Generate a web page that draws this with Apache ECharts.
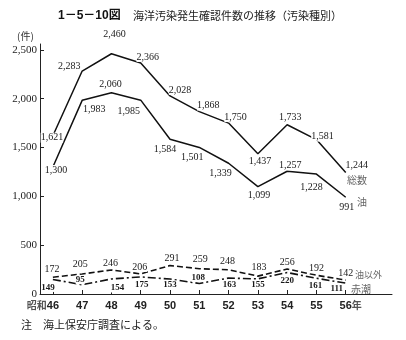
<!DOCTYPE html>
<html>
<head>
<meta charset="utf-8">
<script src="https://cdn.jsdelivr.net/npm/echarts@6/dist/echarts.min.js"></script>
<style>html,body{margin:0;padding:0;background:#fff}#c{width:406px;height:340px}</style>
</head>
<body>
<div id="c"></div>
<script>
// ---- data ----
const years = [46, 47, 48, 49, 50, 51, 52, 53, 54, 55, 56];
const totalCounts = [1621, 2283, 2460, 2366, 2028, 1868, 1750, 1437, 1733, 1581, 1244];
const oilCounts = [1300, 1983, 2060, 1985, 1584, 1501, 1339, 1099, 1257, 1228, 991];
const nonOilCounts = [172, 205, 246, 206, 291, 259, 248, 183, 256, 192, 142];
const redTideCounts = [149, 95, 154, 175, 153, 108, 163, 155, 220, 161, 111];
const yTicks = [0, 500, 1000, 1500, 2000, 2500];
const seriesNames = ['総数', '油', '油以外', '赤潮'];

// ---- label placement (style only) ----
const totalOff = [[-1,2],[-13,-5],[3,-19],[7,-6],[10,-6],[9,-6],[7,-6],[2,8],[3,-7],[6,-3],[11,-7]];
const oilOff = [[3,3],[12,9],[-1,-8],[-12,11],[-5,10],[-7,10],[-8,10],[1,9],[3,-6],[-5,13],[1,10]];
const nonOilOff = [[-1,-8],[-2,-10],[-1,-7],[-1,-7],[2,-7],[1,-9],[-1,-8],[1,-9],[0,-7],[0,-7],[0,-7]];
const redOff = [[-5,8],[-2,-5],[6,9],[1,8],[0,6],[-1,-6],[1,7],[0,6],[0,8],[-1,7],[-9,6]];

function fmt(v){ return String(v).replace(/\B(?=(\d{3})+(?!\d))/g, ','); }

function makeData(vals, offs, font, weight){
  return vals.map((v, i) => ({
    value: [years[i], v],
    label: {
      show: true, position: 'inside', offset: offs[i],
      formatter: fmt(v), fontFamily: 'Liberation Serif', fontSize: font,
      fontWeight: weight, color: '#1a1a1a', backgroundColor: '#fff', padding: [0, 0]
    }
  }));
}

function lineSeries(name, data, type, width){
  return {
    name: name, type: 'line', data: data,
    symbol: 'circle', symbolSize: 1, showSymbol: true,
    itemStyle: { color: 'rgba(0,0,0,0)' },
    lineStyle: { color: '#111', width: width, type: type },
    emphasis: { disabled: true }, animation: false, z: 3
  };
}

const richStyles = {
  s: { fontFamily: 'Noto Sans CJK JP', fontSize: 10, color: '#555' },
  h: { fontFamily: 'Noto Sans CJK JP', fontSize: 10, color: 'rgba(0,0,0,0)' }
};
const restYears = years.slice(1);
const firstYear = [years[0]];

const chart = echarts.init(document.getElementById('c'), null, { renderer: 'canvas' });
chart.setOption({
  backgroundColor: '#fff',
  animation: false,
  grid: { left: 40, right: 14, top: 44, bottom: 46, containLabel: false },
  xAxis: [{
    type: 'value', min: 45.56, max: 57.58,
    splitLine: { show: false },
    axisLine: { lineStyle: { color: '#222', width: 1 } },
    axisTick: { show: true, inside: true, length: 4, customValues: years, lineStyle: { color: '#222' } },
    axisLabel: {
      customValues: restYears, margin: 6, showMinLabel: true, showMaxLabel: true, hideOverlap: false,
      fontFamily: 'Liberation Sans', fontSize: 11, fontWeight: 'bold', color: '#222',
      formatter: v => v === years[years.length-1] ? '{h|年}' + v + '{s|年}' : String(v),
      rich: richStyles
    }
  }, {
    type: 'value', min: 45.56, max: 57.58, position: 'bottom',
    splitLine: { show: false }, axisLine: { show: false }, axisTick: { show: false },
    axisLabel: {
      customValues: firstYear, margin: 6, showMinLabel: true, showMaxLabel: true,
      fontFamily: 'Liberation Sans', fontSize: 11, fontWeight: 'bold', color: '#222',
      formatter: v => '{s|昭和}' + v + '{h|昭和}',
      rich: richStyles
    }
  }],
  yAxis: {
    type: 'value', min: 0, max: 2560,
    splitLine: { show: false },
    axisLine: { show: true, lineStyle: { color: '#222', width: 1 } },
    axisTick: { show: true, inside: true, length: 4, customValues: yTicks, lineStyle: { color: '#222' } },
    axisLabel: {
      customValues: yTicks, margin: 3, showMinLabel: true, showMaxLabel: true,
      fontFamily: 'Liberation Serif', fontSize: 11, color: '#222',
      formatter: v => fmt(v)
    }
  },
  series: [
    lineSeries(seriesNames[0], makeData(totalCounts, totalOff, 10, 'normal'), 'solid', 1.5),
    lineSeries(seriesNames[1], makeData(oilCounts, oilOff, 10, 'normal'), 'solid', 1.5),
    lineSeries(seriesNames[2], makeData(nonOilCounts, nonOilOff, 10, 'normal'), [6, 3], 1.6),
    lineSeries(seriesNames[3], makeData(redTideCounts, redOff, 9, 'bold'), [8, 3, 2, 3], 1.6)
  ],
  graphic: [
    { type: 'text', left: 58, top: 10, style: { text: '1－5－10図', font: 'bold 12px "Liberation Sans", "Noto Sans CJK JP"', fill: '#111' } },
    { type: 'text', left: 133, top: 10, style: { text: '海洋汚染発生確認件数の推移（汚染種別）', font: '11px "Noto Sans CJK JP"', fill: '#222' } },
    { type: 'text', left: 17, top: 31, style: { text: '(件)', font: '10px "Noto Sans CJK JP"', fill: '#333' } },
    { type: 'text', left: 21, top: 319, style: { text: '注　海上保安庁調査による。', font: '11px "Noto Sans CJK JP"', fill: '#222' } },
    { type: 'text', left: 347, top: 175, style: { text: seriesNames[0], font: '10px "Noto Sans CJK JP"', fill: '#666' } },
    { type: 'text', left: 357, top: 197, style: { text: seriesNames[1], font: '10px "Noto Sans CJK JP"', fill: '#666' } },
    { type: 'text', left: 355, top: 270, style: { text: seriesNames[2], font: '9px "Noto Sans CJK JP"', fill: '#666' } },
    { type: 'text', left: 351, top: 284, style: { text: seriesNames[3], font: '10px "Noto Sans CJK JP"', fill: '#666' } }
  ]
});
</script>
</body>
</html>
